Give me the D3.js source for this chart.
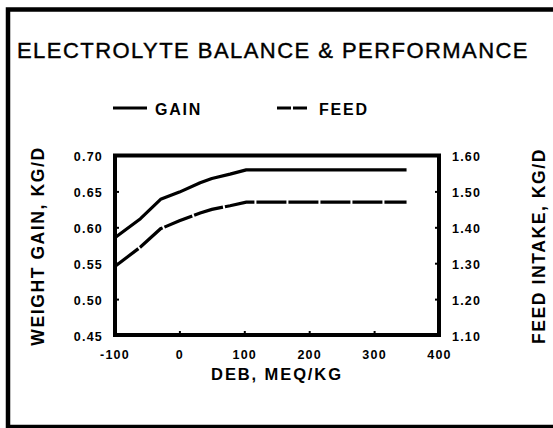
<!DOCTYPE html>
<html><head><meta charset="utf-8">
<script src="https://cdn.jsdelivr.net/npm/d3@7"></script>
<style>
html,body{margin:0;padding:0;background:#fff;}
text{font-family:"Liberation Sans",Arial,Helvetica,sans-serif;fill:#000;}
</style></head>
<body>
<svg id="chart" width="553" height="428"></svg>
<script>
// ---- data ----
const debValues   = [-100, -60, -29, 0, 32, 50, 78, 103, 350];
const gainValues  = [0.585, 0.612, 0.639, 0.649, 0.662, 0.668, 0.674, 0.680, 0.680];
const feedValues  = [1.290, 1.345, 1.396, 1.418, 1.440, 1.450, 1.460, 1.470, 1.470];
const xTicks      = [-100, 0, 100, 200, 300, 400];
const leftTicks   = [0.45, 0.50, 0.55, 0.60, 0.65, 0.70];
const rightTicks  = [1.10, 1.20, 1.30, 1.40, 1.50, 1.60];
const seriesNames = ["GAIN", "FEED"];
const titleText   = "ELECTROLYTE BALANCE & PERFORMANCE";
const xTitle      = "DEB, MEQ/KG";
const leftTitle   = "WEIGHT GAIN, KG/D";
const rightTitle  = "FEED INTAKE, KG/D";

const svg = d3.select("#chart");
const L = 115, R = 439, T = 155.5, B = 335;

const x  = d3.scaleLinear().domain([-100, 400]).range([114.5, 439]);
const yL = d3.scaleLinear().domain([0.45, 0.70]).range([B, T]);
const yR = d3.scaleLinear().domain([1.10, 1.60]).range([B, T]);

// outer frame
svg.append("rect").attr("x", 8).attr("y", 9.5).attr("width", 580).attr("height", 417.5)
  .attr("fill", "none").attr("stroke", "#000").attr("stroke-width", 4.5);

// title
svg.append("text").attr("x", 17).attr("y", 58).attr("font-size", 22)
  .attr("letter-spacing", 1.45).attr("stroke", "#000").attr("stroke-width", 0.4).text(titleText);

// legend
const legY = 108;
svg.append("line").attr("x1", 113).attr("x2", 147).attr("y1", legY).attr("y2", legY)
  .attr("stroke", "#000").attr("stroke-width", 3);
svg.append("text").attr("x", 155).attr("y", legY + 6.5).attr("font-size", 16)
  .attr("font-weight", "bold").attr("letter-spacing", 1.8).text(seriesNames[0]);
svg.append("line").attr("x1", 277).attr("x2", 307).attr("y1", legY).attr("y2", legY)
  .attr("stroke", "#000").attr("stroke-width", 3).attr("stroke-dasharray", "14,2");
svg.append("text").attr("x", 319).attr("y", legY + 6.5).attr("font-size", 16)
  .attr("font-weight", "bold").attr("letter-spacing", 1.8).text(seriesNames[1]);

// axes
const tickFont = g => g.selectAll("text").attr("font-size", 12.5).attr("font-weight", "bold")
  .attr("letter-spacing", 1.2).attr("font-family", '"Liberation Sans",Arial,sans-serif').attr("fill", "#000");

const gx = svg.append("g").attr("transform", `translate(0,${B})`)
  .call(d3.axisBottom(x).tickValues(xTicks).tickSize(-4).tickPadding(15).tickFormat(d => String(d)));
gx.call(tickFont);
gx.select(".domain").remove();
gx.selectAll("line").attr("stroke", "#000").attr("stroke-width", 2);

const gl = svg.append("g").attr("transform", `translate(${L},0)`)
  .call(d3.axisLeft(yL).tickValues(leftTicks).tickSize(-4).tickPadding(12).tickFormat(d3.format(".2f")));
gl.call(tickFont);
gl.select(".domain").remove();
gl.selectAll("line").attr("stroke", "#000").attr("stroke-width", 2);
gl.selectAll("text").attr("dy", "0.4em");

const gr = svg.append("g").attr("transform", `translate(${R},0)`)
  .call(d3.axisRight(yR).tickValues(rightTicks).tickSize(-4).tickPadding(13).tickFormat(d3.format(".2f")));
gr.call(tickFont);
gr.select(".domain").remove();
gr.selectAll("line").attr("stroke", "#000").attr("stroke-width", 2);
gr.selectAll("text").attr("dy", "0.4em");

// plot box
svg.append("rect").attr("x", L).attr("y", T).attr("width", R - L).attr("height", B - T)
  .attr("fill", "none").attr("stroke", "#000").attr("stroke-width", 4);

// lines
const gainLine = d3.line().x((d, i) => x(debValues[i])).y(d => yL(d));
const feedLine = d3.line().x((d, i) => x(debValues[i])).y(d => yR(d));
svg.append("path").attr("d", gainLine(gainValues)).attr("fill", "none")
  .attr("stroke", "#000").attr("stroke-width", 3.2).attr("stroke-linejoin", "round");
svg.append("path").attr("d", feedLine(feedValues)).attr("fill", "none")
  .attr("stroke", "#000").attr("stroke-width", 3.2).attr("stroke-dasharray", "30,2");

// axis titles
svg.append("text").attr("x", 277).attr("y", 380).attr("text-anchor", "middle")
  .attr("font-size", 16.5).attr("font-weight", "bold").attr("letter-spacing", 1.9).text(xTitle);
svg.append("text").attr("transform", "translate(44,246) rotate(-90)").attr("text-anchor", "middle")
  .attr("font-size", 17.5).attr("font-weight", "bold").attr("letter-spacing", 1.6).text(leftTitle);
svg.append("text").attr("transform", "translate(545,246) rotate(-90)").attr("text-anchor", "middle")
  .attr("font-size", 17.5).attr("font-weight", "bold").attr("letter-spacing", 1.6).text(rightTitle);
</script>
</body></html>
